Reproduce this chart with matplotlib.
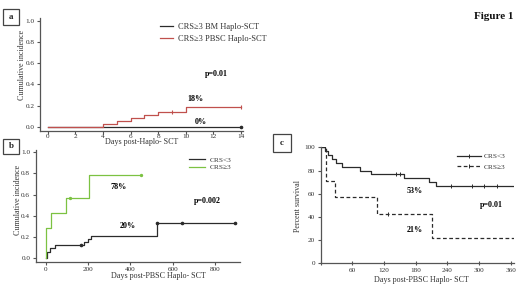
import matplotlib
matplotlib.use("Agg")
import matplotlib.pyplot as plt
from matplotlib.lines import Line2D
from matplotlib.patches import Rectangle
import numpy as np

plt.rcParams['font.family'] = ['Liberation Serif', 'DejaVu Serif']

# ---------------- data ----------------
# Panel a: cumulative incidence of CRS>=3 by graft source
a_bm_days = [0, 14]
a_bm_ci = [0.0, 0.0]
a_pbsc_days = [0, 4, 5, 6, 7, 8, 10, 14]
a_pbsc_ci = [0.0, 0.028, 0.055, 0.083, 0.11, 0.135, 0.185, 0.185]
a_pbsc_censor = [9, 14]
a_bm_censor = [14]
a_xticks = [0, 2, 4, 6, 8, 10, 12, 14]

# Panel b: cumulative incidence after PBSC Haplo-SCT
b_lo_days = [0, 8, 22, 45, 180, 198, 213, 525, 895]
b_lo_ci = [0.0, 0.063, 0.094, 0.126, 0.157, 0.18, 0.21, 0.33, 0.33]
b_lo_censor = [165, 525, 645, 895]
b_hi_days = [0, 3, 23, 97, 203, 450]
b_hi_ci = [0.0, 0.286, 0.429, 0.571, 0.786, 0.786]
b_hi_censor = [115, 450]
b_xticks = [0, 200, 400, 600, 800]

# Panel c: overall survival
c_lo_days = [0, 9, 15, 22, 30, 40, 75, 95, 158, 205, 218, 365]
c_lo_surv = [100, 96.7, 93.3, 90, 86.7, 83.3, 80, 76.7, 73.3, 70, 66.7, 66.7]
c_lo_censor = [142, 150, 246, 287, 309, 334]
c_hi_days = [0, 10, 27, 107, 210, 365]
c_hi_surv = [100, 71.4, 57.1, 42.9, 21.4, 21.4]
c_hi_censor = [128]
c_xticks = [0, 60, 120, 180, 240, 300, 360]
c_xticklabels = ['', '60', '120', '180', '240', '300', '360']
c_yticks = [0, 20, 40, 60, 80, 100]

W, H = 520, 290
fig = plt.figure(figsize=(W / 100, H / 100), dpi=100)

def box(l, t, r, b):
    return [l / W, 1 - b / H, (r - l) / W, (b - t) / H]

def fx(px):
    return px / W

def fy(py):
    return 1 - py / H

BLACK = '#2b2b2b'
RED = '#c0504d'
GREEN = '#7cc242'
AX = '#555555'
TICKFS = 5.2
LBLFS = 5.8

def style(ax):
    for s in ['top', 'right']:
        ax.spines[s].set_visible(False)
    for s in ['left', 'bottom']:
        ax.spines[s].set_color(AX)
        ax.spines[s].set_linewidth(0.9)
    ax.tick_params(colors=AX, labelcolor='#333333', labelsize=TICKFS,
                   length=2.5, width=0.8, pad=1.5)

def step_at(days, vals, x):
    idx = np.searchsorted(days, x, side='right') - 1
    return np.asarray(vals)[idx]

# ---------------- panel a ----------------
axa = fig.add_axes(box(40, 18.3, 243, 130.7))
style(axa)
axa.tick_params(axis='x', length=1.8, pad=0.5)
axa.step(a_bm_days, a_bm_ci, where='post', color=BLACK, lw=0.9)
axa.plot(a_bm_censor, [step_at(a_bm_days, a_bm_ci, d) for d in a_bm_censor],
         ls='none', marker='o', ms=1.6, color=BLACK)
axa.step(a_pbsc_days, a_pbsc_ci, where='post', color=RED, lw=0.9)
axa.plot(a_pbsc_censor, [step_at(a_pbsc_days, a_pbsc_ci, d) for d in a_pbsc_censor],
         ls='none', marker='|', ms=2.5, mew=0.8, color=RED)
axa.set_xlim(-0.56, 14.15)
axa.set_ylim(-0.038, 1.025)
axa.set_xticks(a_xticks)
axa.set_yticks([0, 0.2, 0.4, 0.6, 0.8, 1.0])
axa.set_yticklabels(['0.0', '0.2', '0.4', '0.6', '0.8', '1.0'])
axa.text(12.2, 0.5, 'p=0.01', fontsize=LBLFS, fontweight='bold', ha='center', va='center')
axa.text(10.67, 0.262, '18%', fontsize=LBLFS, fontweight='bold', ha='center', va='center')
axa.text(11.1, 0.047, '0%', fontsize=LBLFS, fontweight='bold', ha='center', va='center')
ha = [Line2D([], [], color=BLACK, lw=0.9), Line2D([], [], color=RED, lw=0.9)]
axa.legend(ha, ['CRS\u22653 BM Haplo-SCT', 'CRS\u22653 PBSC Haplo-SCT'],
           loc='center left', bbox_to_anchor=(fx(160), fy(33)), bbox_transform=fig.transFigure,
           frameon=False, fontsize=6.0, handlelength=1.5, handletextpad=0.6,
           labelspacing=0.45, borderpad=0, borderaxespad=0, labelcolor='#333333')
fig.text(fx(22), fy(65), 'Cumulative incidence', rotation=90, ha='center', va='center',
         fontsize=LBLFS, color='#333333')
fig.text(fx(141.5), fy(142.5), 'Days post-Haplo- SCT', ha='center', va='center',
         fontsize=LBLFS, color='#333333')

# ---------------- panel b ----------------
axb = fig.add_axes(box(35.7, 150, 240, 261.7))
style(axb)
axb.step(b_lo_days, b_lo_ci, where='post', color=BLACK, lw=0.9)
axb.plot(b_lo_censor, [step_at(b_lo_days, b_lo_ci, d) for d in b_lo_censor],
         ls='none', marker='o', ms=1.6, color=BLACK)
axb.step(b_hi_days, b_hi_ci, where='post', color=GREEN, lw=0.9)
axb.plot(b_hi_censor, [step_at(b_hi_days, b_hi_ci, d) for d in b_hi_censor],
         ls='none', marker='o', ms=1.4, color=GREEN)
axb.set_xlim(-47, 918)
axb.set_ylim(-0.032, 1.02)
axb.set_xticks(b_xticks)
axb.set_yticks([0, 0.2, 0.4, 0.6, 0.8, 1.0])
axb.set_yticklabels(['0.0', '0.2', '0.4', '0.6', '0.8', '1.0'])
axb.text(346, 0.675, '78%', fontsize=LBLFS, fontweight='bold', ha='center', va='center')
axb.text(389, 0.305, '20%', fontsize=LBLFS, fontweight='bold', ha='center', va='center')
axb.text(762, 0.54, 'p=0.002', fontsize=LBLFS, fontweight='bold', ha='center', va='center')
hb = [Line2D([], [], color=BLACK, lw=0.9), Line2D([], [], color=GREEN, lw=0.9)]
axb.legend(hb, ['CRS<3', 'CRS\u22653'],
           loc='center left', bbox_to_anchor=(fx(189), fy(163.5)), bbox_transform=fig.transFigure,
           frameon=False, fontsize=5.3, handlelength=2.2, handletextpad=0.6,
           labelspacing=0.2, borderpad=0, borderaxespad=0, labelcolor='#333333')
fig.text(fx(18.5), fy(200), 'Cumulative incidence', rotation=90, ha='center', va='center',
         fontsize=LBLFS, color='#333333')
fig.text(fx(158), fy(276.5), 'Days post-PBSC Haplo- SCT', ha='center', va='center',
         fontsize=LBLFS, color='#333333')

# ---------------- panel c ----------------
axc = fig.add_axes(box(320.5, 146.8, 513.5, 263.3))
style(axc)
axc.step(c_lo_days, c_lo_surv, where='post', color=BLACK, lw=0.9)
axc.plot(c_lo_censor, [step_at(c_lo_days, c_lo_surv, d) for d in c_lo_censor],
         ls='none', marker='|', ms=2.5, mew=0.7, color=BLACK)
axc.step(c_hi_days, c_hi_surv, where='post', color=BLACK, lw=0.9, ls=(0, (3, 2)))
axc.plot(c_hi_censor, [step_at(c_hi_days, c_hi_surv, d) for d in c_hi_censor],
         ls='none', marker='|', ms=2.5, mew=0.7, color=BLACK)
axc.set_xlim(0, 365)
axc.set_ylim(0, 100.5)
axc.set_xticks(c_xticks)
axc.set_xticklabels(c_xticklabels)
axc.set_yticks(c_yticks)
axc.tick_params(axis='x', direction='inout', length=3.5)
axc.text(178, 62.3, '53%', fontsize=LBLFS, fontweight='bold', ha='center', va='center')
axc.text(178, 28.7, '21%', fontsize=LBLFS, fontweight='bold', ha='center', va='center')
axc.text(323, 50.3, 'p=0.01', fontsize=LBLFS, fontweight='bold', ha='center', va='center')
hc = [Line2D([], [], color=BLACK, lw=0.9, marker='|', ms=3, mew=0.7),
      Line2D([], [], color=BLACK, lw=0.9, ls=(0, (3, 2)), marker='|', ms=3, mew=0.7)]
axc.legend(hc, ['CRS<3', 'CRS\u22653'],
           loc='center left', bbox_to_anchor=(fx(457), fy(161.5)), bbox_transform=fig.transFigure,
           frameon=False, fontsize=5.3, handlelength=3.2, handletextpad=0.5,
           labelspacing=0.55, borderpad=0, borderaxespad=0, labelcolor='#333333')
fig.text(fx(298), fy(206), 'Percent survival', rotation=90, ha='center', va='center',
         fontsize=LBLFS, color='#333333')
fig.text(fx(421), fy(280), 'Days post-PBSC Haplo- SCT', ha='center', va='center',
         fontsize=LBLFS, color='#333333')

# ---------------- panel label boxes & title ----------------
for (l, t, r, b, s) in [(3, 9, 19, 25, 'a'), (3, 139, 19, 154, 'b'), (273, 134, 291, 152, 'c')]:
    fig.patches.append(Rectangle((fx(l), fy(b)), (r - l) / W, (b - t) / H,
                                 transform=fig.transFigure, fill=False,
                                 ec='#444444', lw=0.9))
    fig.text(fx((l + r) / 2), fy((t + b) / 2), s, ha='center', va='center',
             fontsize=6.5, fontweight='bold', color='#222222')

fig.text(fx(494), fy(16.5), 'Figure 1', ha='center', va='center', fontsize=8,
         fontweight='bold', color='#111111')

fig.savefig('out.png', dpi=100, facecolor='white')
